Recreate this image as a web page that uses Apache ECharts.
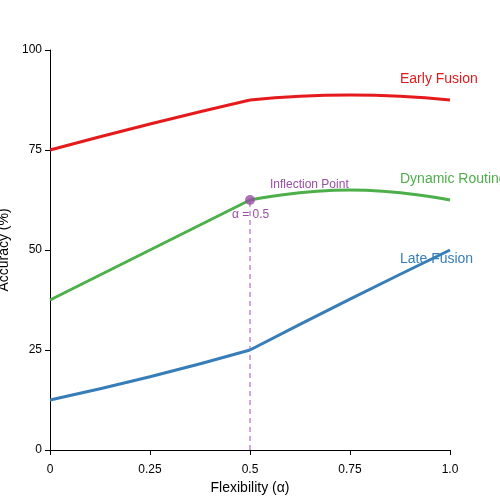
<!DOCTYPE html>
<html><head><meta charset="utf-8">
<script src="https://cdn.jsdelivr.net/npm/echarts@6/dist/echarts.min.js"></script>
<style>html,body{margin:0;padding:0}#c{width:500px;height:500px}</style>
</head><body><div id="c"></div>
<script>
const xValues = [0, 0.25, 0.5, 0.75, 1.0];
const earlyFusion = [75, 81.5, 87.5, 88.75, 87.5];
const dynamicRouting = [37.5, 50, 62.5, 65, 62.5];
const lateFusion = [12.5, 18.3, 25, 37.7, 50];
const xTickLabels = {0:'0',0.25:'0.25',0.5:'0.5',0.75:'0.75',1:'1.0'};
const inflection = [0.5, 62.5];

const pair = arr => xValues.map((x,i)=>[x,arr[i]]);
const first = arr => pair(arr).slice(0,3);
const second = arr => pair(arr).slice(2);
const chart = echarts.init(document.getElementById('c'));
const font = 'Liberation Sans, Arial, sans-serif';
const seg = (data,color)=>({type:'line',data,smooth:0.5,symbol:'none',lineStyle:{color,width:3}});
chart.setOption({
  animation:false,
  grid:{left:50,right:50,top:50,bottom:50,containLabel:false,outerBoundsMode:'none'},
  xAxis:{type:'value',min:0,max:1,interval:0.25,splitLine:{show:false},
    axisLine:{lineStyle:{color:'#000'}},axisTick:{lineStyle:{color:'#000'}},
    axisLabel:{color:'#000',fontFamily:font,fontSize:12,margin:14,formatter:v=>xTickLabels[v]},
    name:'Flexibility (α)',nameLocation:'middle',nameGap:22,nameTextStyle:{color:'#000',fontFamily:font,fontSize:14}},
  yAxis:{type:'value',min:0,max:100,interval:25,splitLine:{show:false},
    axisLine:{show:true,lineStyle:{color:'#000'}},axisTick:{show:true,lineStyle:{color:'#000'}},
    axisLabel:{color:'#000',fontFamily:font,fontSize:12},
    name:'Accuracy (%)',nameLocation:'middle',nameGap:35,nameTextStyle:{color:'#000',fontFamily:font,fontSize:14}},
  series:[
    seg(first(earlyFusion),'#e41a1c'), seg(second(earlyFusion),'#e41a1c'),
    seg(first(dynamicRouting),'#4daf4a'), seg(second(dynamicRouting),'#4daf4a'),
    seg(first(lateFusion),'#377eb8'), seg(second(lateFusion),'#377eb8'),
    {type:'line',data:[[inflection[0],0],inflection],symbol:'none',
     lineStyle:{color:'#c08bd0',width:1.5,type:[5,4]},z:1},
    {type:'scatter',data:[inflection],symbolSize:10,itemStyle:{color:'#984ea3'},z:5}
  ],
  graphic:[
    {type:'text',left:400,top:72,style:{text:'Early Fusion',fill:'#e41a1c',font:'14px '+font}},
    {type:'text',left:400,top:172,style:{text:'Dynamic Routing',fill:'#4daf4a',font:'14px '+font}},
    {type:'text',left:400,top:252,style:{text:'Late Fusion',fill:'#377eb8',font:'14px '+font}},
    {type:'text',left:270,top:179,style:{text:'Inflection Point',fill:'#984ea3',font:'12px '+font}},
    {type:'text',left:232,top:209,style:{text:'α = 0.5',fill:'#984ea3',font:'12px '+font}}
  ]
});
</script></body></html>
